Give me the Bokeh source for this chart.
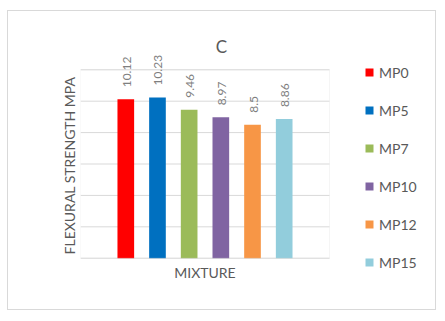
import numpy as np
from bokeh.plotting import figure
from bokeh.models import (Range1d, FixedTicker, Legend, LegendItem, ColumnDataSource,
                          Label, BoxAnnotation)
from bokeh.core.properties import value
from bokeh.embed import file_html
from bokeh.resources import INLINE

series = ["MP0", "MP5", "MP7", "MP10", "MP12", "MP15"]
strength = [10.12, 10.23, 9.46, 8.97, 8.5, 8.86]
labels = ["10.12", "10.23", "9.46", "8.97", "8.5", "8.86"]
colors = ["#FF0000", "#0070C0", "#9BBB59", "#8064A2", "#F79646", "#92CDDC"]
y_ticks = [0, 2, 4, 6, 8, 10, 12]
title_text = "C"
x_title = "MIXTURE"
y_title = "FLEXURAL STRENGTH MPA"

FONT = "Lato"
GRAY = "#595959"
GRID = "#d9d9d9"

xpos = np.arange(len(series))
area_x0, area_x1 = -1.43, len(series) - 1 + 1.43   # plot-area extent
area_y0, area_y1 = y_ticks[0], y_ticks[-1]

p = figure(width=429, height=300, output_backend="svg", toolbar_location=None,
           x_range=Range1d(area_x0, 9.84), y_range=Range1d(-2.69, 14.5),
           x_axis_location=None,
           min_border_left=72, min_border_right=0, min_border_top=19, min_border_bottom=11)
p.styles = {"margin": "10px 0 0 7px", "border": "1px solid #d9d9d9"}
p.outline_line_color = None
p.xgrid.grid_line_color = None
p.ygrid.grid_line_color = None

# plot area border and gridlines
p.segment(x0=[area_x0] * len(y_ticks), x1=[area_x1] * len(y_ticks), y0=y_ticks, y1=y_ticks,
          line_color=GRID, line_width=1)
p.add_layout(BoxAnnotation(left=area_x0, right=area_x1, bottom=area_y0, top=area_y1,
                           fill_alpha=0, line_color=GRID, line_width=1))

src = ColumnDataSource(dict(x=xpos, top=strength, lab=labels))
renderers = []
for i, s in enumerate(series):
    r = p.vbar(x=xpos[i], top=strength[i], width=0.526, fill_color=colors[i], line_color=None)
    renderers.append(r)

p.text(x="x", y="top", text="lab", source=src, angle=np.pi / 2, text_align="left",
       text_baseline="middle", y_offset=-12, x_offset=1, text_font=value(FONT),
       text_font_size="12px", text_color="#7f7f7f")

p.add_layout(Label(x=141, y=254, x_units="screen", y_units="screen", text=title_text,
                   text_align="center", text_baseline="middle", text_font=FONT,
                   text_font_size="17px", text_color=GRAY))
p.add_layout(Label(x=(xpos[0] + xpos[-1]) / 2, y=28, y_units="screen", text=x_title,
                   text_align="center", text_baseline="middle", text_font=FONT,
                   text_font_size="14px", text_color=GRAY))

p.yaxis.axis_label = y_title
p.yaxis.axis_label_text_font = FONT
p.yaxis.axis_label_text_font_size = "14px"
p.yaxis.axis_label_text_font_style = "normal"
p.yaxis.axis_label_text_color = GRAY
p.yaxis.axis_label_standoff = 3
p.yaxis.ticker = FixedTicker(ticks=[])
p.yaxis.bounds = (area_y0, area_y1)
p.yaxis.axis_line_color = None
p.yaxis.major_tick_line_color = None
p.yaxis.minor_tick_line_color = None
p.yaxis.major_tick_out = 0
p.yaxis.major_tick_in = 0
p.yaxis.major_label_standoff = 0

legend = Legend(items=[LegendItem(label=s, renderers=[renderers[i]]) for i, s in enumerate(series)],
                location=(284, 28), orientation="vertical",
                label_text_font=FONT, label_text_font_size="14px", label_text_color=GRAY,
                glyph_width=10, glyph_height=10, label_height=20, spacing=18,
                label_standoff=5, padding=0, margin=0,
                border_line_color=None, background_fill_alpha=0)
p.add_layout(legend)

open("out.html", "w").write(file_html(p, INLINE))
